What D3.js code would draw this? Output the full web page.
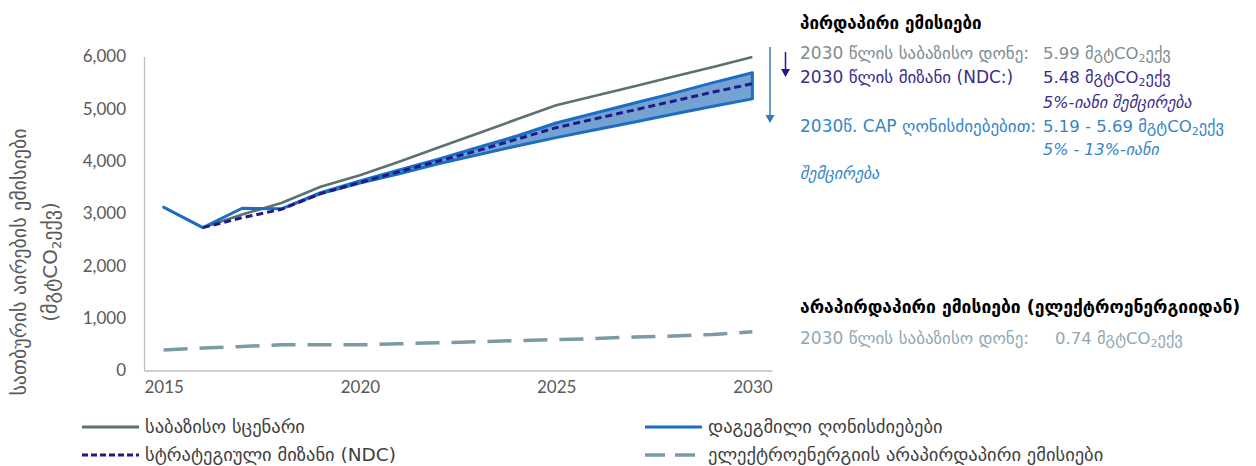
<!DOCTYPE html>
<html>
<head>
<meta charset="utf-8">
<script src="https://cdn.jsdelivr.net/npm/d3@7"></script>
<style>
  html, body { margin: 0; padding: 0; background: #ffffff; }
  svg { display: block; }
  text { font-family: "DejaVu Sans", "Noto Sans", sans-serif; }
</style>
</head>
<body>
<svg id="chart" width="1256" height="466"></svg>
<script>
// Years on the category axis
const years = d3.range(2015, 2031);
const yearTicks = [2015, 2020, 2025, 2030];
const valueTicks = [0, 1000, 2000, 3000, 4000, 5000, 6000];

// Direct emissions, ktCO2e
const baseline = [3120, 2730, 2980, 3200, 3510, 3730, 3990, 4260, 4530, 4800, 5070, 5250, 5430, 5620, 5800, 5990];
const capLower = [3120, 2730, 3100, 3090, 3380, 3580, 3760, 3950, 4120, 4290, 4450, 4600, 4750, 4900, 5050, 5190];
const capUpper = [3120, 2730, 3100, 3090, 3400, 3620, 3830, 4040, 4260, 4480, 4730, 4920, 5110, 5300, 5500, 5690];
const ndcYears = d3.range(2016, 2031);
const ndc = [2730, 2920, 3080, 3380, 3590, 3800, 4000, 4200, 4420, 4640, 4810, 4980, 5150, 5320, 5480];

// Indirect emissions from electricity, ktCO2e
const indirect = [390, 430, 460, 490, 490, 490, 510, 530, 550, 570, 590, 610, 640, 660, 690, 740];

const svg = d3.select("#chart");

const x = d3.scalePoint().domain(years).range([144, 772]).padding(0.5);
const y = d3.scaleLinear().domain([0, 6000]).range([370.5, 56.5]);

const C = {
  axis: "#bfbfbf",
  tick: "#595959",
  baseline: "#5b7173",
  cap: "#1b6ec2",
  capFill: "#74a3d3",
  ndc: "#1f1a88",
  indirect: "#7c9aa3"
};
const latin = "Lato, 'Open Sans', sans-serif";

// Axes
const yAxis = d3.axisLeft(y).tickValues(valueTicks).tickSize(0).tickPadding(18)
  .tickFormat(d3.format(","));
const gy = svg.append("g").attr("transform", "translate(144,0)").call(yAxis);
gy.select(".domain").attr("stroke", C.axis).attr("stroke-width", 1.3);
gy.selectAll("text").attr("fill", C.tick).style("font-family", latin).style("font-size", "17px");

const xAxis = d3.axisBottom(x).tickValues(yearTicks).tickSize(0).tickPadding(10).tickSizeOuter(0);
const gx = svg.append("g").attr("transform", "translate(0,370.5)").call(xAxis);
gx.select(".domain").attr("stroke", C.axis).attr("stroke-width", 1.3);
gx.selectAll("text").attr("fill", C.tick).style("font-family", latin).style("font-size", "17px");

// Y axis title
const yTitle = svg.append("text")
  .attr("transform", "translate(26,262) rotate(-90)")
  .attr("text-anchor", "middle")
  .attr("fill", C.tick)
  .style("font-size", "20px");
yTitle.append("tspan").attr("x", 0).attr("dy", 0).text("სათბურის აირების ემისიები");
const yt2 = yTitle.append("tspan").attr("x", 0).attr("dy", 31);
yt2.append("tspan").text("(მგტCO");
yt2.append("tspan").attr("font-size", "13px").attr("dy", 4).text("2");
yt2.append("tspan").attr("dy", -4).text("ექვ)");

const line = d3.line().x((d, i) => x(years[i])).y(d => y(d));

// Indirect emissions
svg.append("path").datum(indirect)
  .attr("d", line).attr("fill", "none")
  .attr("stroke", C.indirect).attr("stroke-width", 3.5)
  .attr("stroke-dasharray", "24,12");

// Baseline scenario
svg.append("path").datum(baseline)
  .attr("d", line).attr("fill", "none")
  .attr("stroke", C.baseline).attr("stroke-width", 2.6)
  .attr("stroke-linejoin", "round");

// Planned measures range
const band = d3.area()
  .x((d, i) => x(years[i]))
  .y0((d, i) => y(capLower[i]))
  .y1((d, i) => y(capUpper[i]));
svg.append("path").datum(capLower)
  .attr("d", band)
  .attr("fill", C.capFill)
  .attr("stroke", C.cap).attr("stroke-width", 3)
  .attr("stroke-linejoin", "round");

// NDC target
svg.append("path").datum(ndc)
  .attr("d", d3.line().x((d, i) => x(ndcYears[i])).y(d => y(d)))
  .attr("fill", "none")
  .attr("stroke", C.ndc).attr("stroke-width", 3)
  .attr("stroke-dasharray", "7,4");

// Reduction arrows
function arrow(xp, y1, y2, color, w) {
  svg.append("line").attr("x1", xp).attr("x2", xp).attr("y1", y1).attr("y2", y2 - 6)
    .attr("stroke", color).attr("stroke-width", w);
  svg.append("path")
    .attr("d", `M${xp - 4.5},${y2 - 8} L${xp + 4.5},${y2 - 8} L${xp},${y2} Z`)
    .attr("fill", color);
}
arrow(770, 47, 123, "#2f7cc4", 1.5);
arrow(785.5, 52, 77, C.ndc, 1.5);

// Annotation block
function valueText(g, xp, yp, color, prefix) {
  const t = g.append("text").attr("x", xp).attr("y", yp).attr("fill", color)
    .style("font-size", "16.5px");
  t.append("tspan").text(prefix + " მგტCO");
  t.append("tspan").attr("font-size", "11px").attr("dy", 3).text("2");
  t.append("tspan").attr("dy", -3).text("ექვ");
  return t;
}
function label(g, xp, yp, color, str, italic) {
  return g.append("text").attr("x", xp).attr("y", yp).attr("fill", color)
    .style("font-size", italic ? "16px" : "17px")
    .style("font-style", italic ? "italic" : null)
    .text(str);
}

const ann = svg.append("g");
ann.append("text").attr("x", 800).attr("y", 29).attr("fill", "#000")
  .style("font-size", "17px").style("font-weight", "bold").text("პირდაპირი ემისიები");

label(ann, 800, 59, "#7f8c90", "2030 წლის საბაზისო დონე:");
valueText(ann, 1043, 59, "#7f8c90", "5.99");

label(ann, 800, 83, "#3b2c8c", "2030 წლის მიზანი (NDC:)");
valueText(ann, 1043, 83, "#3b2c8c", "5.48");
label(ann, 1043, 108, "#3b2c8c", "5%-იანი შემცირება", true);

label(ann, 800, 132, "#3585c9", "2030წ. CAP ღონისძიებებით:");
valueText(ann, 1043, 132, "#3585c9", "5.19 - 5.69");
label(ann, 1043, 155, "#3585c9", "5% - 13%-იანი", true);
label(ann, 800, 179, "#3585c9", "შემცირება", true);

ann.append("text").attr("x", 800).attr("y", 313).attr("fill", "#000")
  .style("font-size", "17.5px").style("font-weight", "bold").text("არაპირდაპირი ემისიები (ელექტროენერგიიდან)");
label(ann, 800, 344, "#93a8b3", "2030 წლის საბაზისო დონე:");
valueText(ann, 1055, 344, "#93a8b3", "0.74");

// Legend
const legendItems = [
  { label: "საბაზისო სცენარი", x: 82, y: 427, color: C.baseline, dash: null, w: 3 },
  { label: "სტრატეგიული მიზანი (NDC)", x: 82, y: 455, color: C.ndc, dash: "6,3", w: 3 },
  { label: "დაგეგმილი ღონისძიებები", x: 645, y: 427, color: C.cap, dash: null, w: 3 },
  { label: "ელექტროენერგიის არაპირდაპირი ემისიები", x: 645, y: 455, color: C.indirect, dash: "20,10", w: 3.5 }
];
const lg = svg.append("g").selectAll("g").data(legendItems).join("g")
  .attr("transform", d => `translate(${d.x},${d.y})`);
lg.append("line").attr("x1", 0).attr("x2", 57).attr("y1", 0).attr("y2", 0)
  .attr("stroke", d => d.color).attr("stroke-width", d => d.w)
  .attr("stroke-dasharray", d => d.dash);
lg.append("text").attr("x", 63).attr("y", 6).attr("fill", "#404040")
  .style("font-size", "18.5px").text(d => d.label);
</script>
</body>
</html>
